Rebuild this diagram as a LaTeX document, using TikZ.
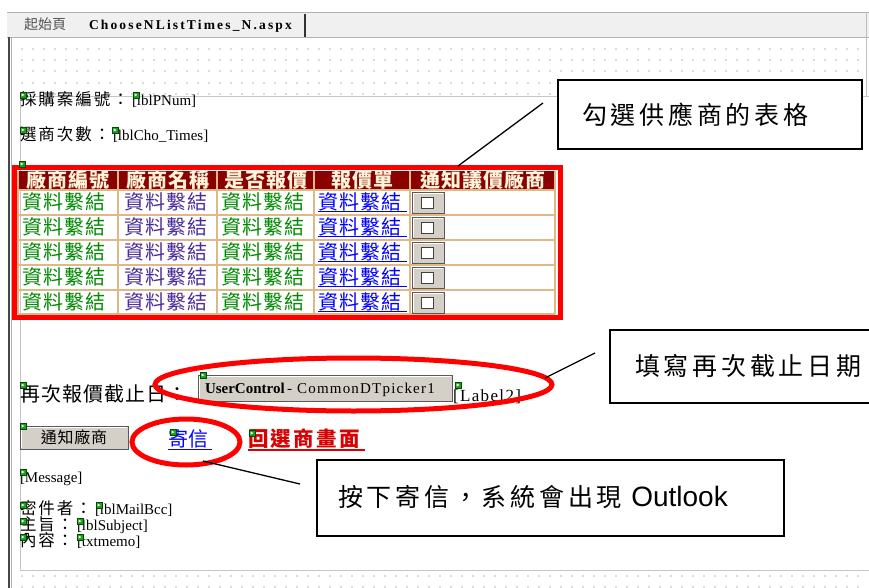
\documentclass[tikz,border=0pt]{standalone}
\usepackage{fontspec}
\setmainfont{Liberation Serif}
\newfontfamily\cjk{Noto Sans CJK TC}
\newfontfamily\cjks[LetterSpace=12]{Noto Sans CJK TC}
\newfontfamily\cjkt[LetterSpace=5]{Noto Sans CJK TC}
\newfontfamily\cjkc[LetterSpace=15]{Noto Sans CJK TC}
\newfontfamily\arialf{Liberation Sans}
\newfontfamily\serifsp[LetterSpace=16]{Liberation Serif}
\newfontfamily\serifls[LetterSpace=8]{Liberation Serif}
\usetikzlibrary{shapes.geometric}
\definecolor{hdr}{HTML}{8B0000}
\definecolor{tanline}{HTML}{DEB887}
\definecolor{lnkgreen}{HTML}{008A00}
\definecolor{lnkpurple}{HTML}{4B2C9A}
\definecolor{btn}{HTML}{D4D0C8}
\definecolor{hdrtxt}{HTML}{FFF4D8}
\definecolor{tabbg}{HTML}{F0F0F0}
\definecolor{mkgreen}{HTML}{1E9E1E}
\tikzset{
  lbl/.style={anchor=base west, inner sep=0pt, outer sep=0pt},
  cjklbl/.style={lbl, font=\cjks\fontsize{16.5}{16.5}\selectfont},
  latlbl/.style={lbl, font=\fontsize{15}{15}\selectfont},
  cell/.style={lbl, font=\cjkt\fontsize{20}{20}\selectfont},
  hcell/.style={anchor=base, inner sep=0pt, font=\cjkt\bfseries\fontsize{20}{20}\selectfont, text=hdrtxt},
  callout/.style={draw=black, line width=1.6pt, fill=white},
  callouttxt/.style={anchor=west, inner sep=0pt, font=\cjkc\fontsize{25}{25}\selectfont},
  redring/.style={draw=red, line width=5pt, ellipse, inner sep=0pt},
  pointer/.style={draw=black, line width=1.3pt},
  btnbox/.style={fill=btn, draw=gray!70!black, line width=0.8pt},
  mk/.style={fill=mkgreen, draw=green!30!black, line width=0.4pt}
}
\begin{document}
\begin{tikzpicture}[x=1pt,y=-1pt]
\useasboundingbox (0,0) rectangle (869,588);
\clip (0,0) rectangle (869,588);
\fill[white] (0,0) rectangle (869,588);
% tab bar
\fill[tabbg] (7,12) rectangle (869,37);
\draw[gray!60] (7,12) -- (869,12);
\draw[gray!60] (7,37) -- (869,37);
\draw[gray!40!black, line width=1.5pt] (305,14) -- (305,37);
\node[lbl, font=\cjk\fontsize{14}{14}\selectfont, text=gray!65!black] (tab1) at (24,30) {起始頁};
\node[lbl, font=\serifsp\bfseries\fontsize{13.5}{13.5}\selectfont] (tab2) at (89,30) {ChooseNListTimes\_N.aspx};
% frame
\draw[gray!55!black, line width=2pt] (8.5,37) -- (8.5,588);
\draw[gray!60, line width=0.8pt] (11.5,37) -- (11.5,588);
\draw[gray!50, line width=0.8pt] (866,12) -- (866,96);
% dotted grid
\foreach \yy in {49,60,71,83,94,576,587}
  \foreach \xx in {22,33,...,868}
    \fill[gray!80!black] (\xx,\yy) circle (0.55);
% panel
\fill[white] (20,96) rectangle (880,570);
\draw[gray!45, line width=0.8pt] (880,96) -- (20,96) -- (20,570) -- (880,570);
% top labels
\node[cjklbl] (pnumlbl) at (20,106) {採購案編號：};
\node[latlbl] (pnum) at (132,106) {[lblPNum]};
\node[cjklbl] (chotlbl) at (20,141) {選商次數：};
\node[latlbl] (chot) at (113,141) {[lblCho\_Times]};
% table
\fill[hdr] (18,171) rectangle (555,190);
\foreach \yy in {190,215,240,265,290,314}
  \draw[tanline, line width=1.2pt] (18,\yy) -- (555,\yy);
\foreach \xx in {18,118,217,314,410,555}
  \draw[tanline, line width=1.2pt] (\xx,171) -- (\xx,314);
\node[hcell] (h1) at (68,187) {廠商編號};
\node[hcell] (h2) at (167.5,187) {廠商名稱};
\node[hcell] (h3) at (265.5,187) {是否報價};
\node[hcell] (h4) at (362,187) {報價單};
\node[hcell] (h5) at (482.5,187) {通知議價廠商};
\foreach \r in {0,...,4}{
  \pgfmathsetmacro\ty{190+25*\r}
  \node[cell, text=lnkgreen] (c\r-1) at (22,{\ty+19}) {資料繫結};
  \node[cell, text=lnkpurple] (c\r-2) at (124,{\ty+19}) {資料繫結};
  \node[cell, text=lnkgreen] (c\r-3) at (221,{\ty+19}) {資料繫結};
  \node[cell, text=blue] (c\r-4) at (318,{\ty+19}) {資料繫結};
  \draw[blue, line width=0.9pt] (318,{\ty+21.5}) -- (407,{\ty+21.5});
  \draw[btnbox] (412,{\ty+2}) rectangle (444,{\ty+23});
  \draw[white, line width=1pt] (413,{\ty+22}) -- (413,{\ty+3}) -- (443,{\ty+3});
  \node[draw=gray!50!black, fill=white, line width=0.8pt, minimum width=12pt, minimum height=11pt, inner sep=0pt] (cb\r) at (427,{\ty+12.5}) {};
}
\draw[red, line width=5pt] (14.5,168) rectangle (560,317);
% callout 1
\draw[callout] (558,80) rectangle (862,149);
\node[callouttxt] (t1) at (582,114.5) {勾選供應商的表格};
\coordinate (p1a) at (543,103);
\coordinate (p1b) at (458,166);
\draw[pointer] (p1a) -- (p1b);
% deadline row
\node[lbl, font=\cjkt\fontsize{20}{20}\selectfont] (dlbl) at (20,401) {再次報價截止日：};
\draw[btnbox] (198,375) rectangle (452,401);
\draw[white, line width=1pt] (199,400) -- (199,376) -- (451,376);
\node[lbl, font=\bfseries\fontsize{15}{15}\selectfont] (uc) at (205,393) {UserControl};
\node[lbl, font=\serifls\fontsize{15}{15}\selectfont] (ucn) at (uc.base east) {\,- CommonDTpicker1};
\node[lbl, font=\serifls\fontsize{17}{17}\selectfont] (lab2) at (453,401) {[Label2]};
\node[redring, minimum width=397pt, minimum height=53pt] (ring1) at (353.5,384.5) {};
\coordinate (p2a) at (545,378);
\coordinate (p2b) at (595,353);
\draw[pointer] (p2a) -- (p2b);
\draw[callout] (610,330) rectangle (880,403);
\node[callouttxt] (t2) at (635,366) {填寫再次截止日期};
% buttons and links
\draw[btnbox] (20,426) rectangle (128,449);
\draw[white, line width=1pt] (21,448) -- (21,427) -- (127,427);
\node[font=\cjkt\fontsize{16}{16}\selectfont, inner sep=0pt] (notify) at (74,437.5) {通知廠商};
\node[lbl, font=\cjk\fontsize{20}{20}\selectfont, text=blue] (send) at (168,446) {寄信};
\draw[blue, line width=0.9pt] (168,449) -- (212,449);
\node[lbl, font=\cjks\bfseries\fontsize{20.5}{20.5}\selectfont, text=red!85!black] (back) at (248,446) {回選商畫面};
\draw[red!85!black, line width=1.6pt] (248,450) -- (365,450);
\node[redring, minimum width=108pt, minimum height=46pt] (ring2) at (186,442) {};
\coordinate (p3a) at (203,461);
\coordinate (p3b) at (300,484);
\draw[pointer] (p3a) -- (p3b);
\draw[callout] (317,460) rectangle (784,536);
\node[callouttxt] (t3) at (338,497) {按下寄信，系統會出現\ {\arialf\fontsize{28}{28}\selectfont Outlook}};
% bottom labels
\node[latlbl] (msg) at (20,482) {[Message]};
\node[cjklbl] (bcclbl) at (20,514) {密件者：};
\node[latlbl] (bcc) at (95,514) {[lblMailBcc]};
\node[cjklbl] (subjlbl) at (20,530) {主旨：};
\node[latlbl] (subj) at (77,530) {[lblSubject]};
\node[cjklbl] (memolbl) at (20,546) {內容：};
\node[latlbl] (memo) at (77,546) {[txtmemo]};
% markers
\foreach \mx/\my in {20/92,133/92,20/127,112/127,19/161,20/382,200/372,455/382,20/423,170/429,249/430,20/469,20/502,96/502,20/518,77/518,20/534,77/534}{
  \filldraw[mk] (\mx,\my) rectangle ++(6,6);
  \fill[white] (\mx+1.5,\my+1.5) -- (\mx+4.5,\my+3) -- (\mx+1.5,\my+4.5) -- cycle;
}
\end{tikzpicture}
\end{document}
